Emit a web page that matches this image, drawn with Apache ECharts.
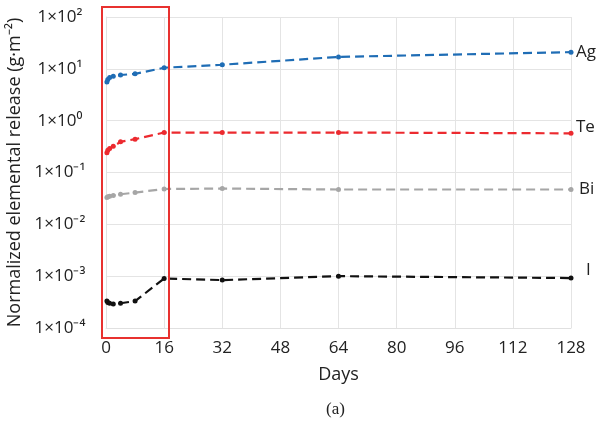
<!DOCTYPE html>
<html>
<head>
<meta charset="utf-8">
<script src="https://cdn.jsdelivr.net/npm/echarts@6/dist/echarts.min.js"></script>
<style>
  html, body { margin: 0; padding: 0; background: #fff; }
  #chart { width: 600px; height: 427px; }
</style>
</head>
<body>
<div id="chart"></div>
<script>
// sampling days
const days = [0.25, 0.5, 1, 2, 4, 8, 16, 32, 64, 128];
// normalized release (g·m^-2)
const agValues = [5.6, 6.2, 6.8, 7.2, 7.6, 8.0, 10.5, 12, 17, 21];
const teValues = [0.24, 0.27, 0.29, 0.32, 0.39, 0.44, 0.59, 0.59, 0.59, 0.57];
const biValues = [0.033, 0.034, 0.035, 0.036, 0.038, 0.041, 0.048, 0.049, 0.047, 0.047];
const iValues = [3.3e-4, 3.1e-4, 3.0e-4, 2.9e-4, 3.0e-4, 3.3e-4, 9.0e-4, 8.4e-4, 1.0e-3, 9.2e-4];
const yTickLabels = {
  '100': '1×10²', '10': '1×10¹', '1': '1×10⁰', '0.1': '1×10⁻¹',
  '0.01': '1×10⁻²', '0.001': '1×10⁻³', '0.0001': '1×10⁻⁴'
};

const font = '"Open Sans", sans-serif';
const chart = echarts.init(document.getElementById('chart'));

function makeSeries(name, values, color, labelOffset) {
  return {
    name: name,
    type: 'line',
    data: days.map((d, i) => [d, values[i]]),
    symbol: 'circle',
    symbolSize: 5,
    lineStyle: { color: color, width: 2.2, type: [9, 5] },
    itemStyle: { color: color },
    endLabel: {
      show: true,
      formatter: name,
      color: '#222',
      fontSize: 17,
      fontFamily: font,
      offset: labelOffset,
      distance: 5
    }
  };
}

chart.setOption({
  animation: false,
  grid: { left: 106, right: 29, top: 17, bottom: 99, outerBoundsMode: 'none', containLabel: false },
  xAxis: {
    type: 'value',
    min: 0,
    max: 128,
    interval: 16,
    name: 'Days',
    nameLocation: 'middle',
    nameGap: 38,
    nameTextStyle: { fontSize: 18, color: '#222', fontFamily: font },
    axisLine: { show: true, lineStyle: { color: '#e0e0e0' } },
    axisTick: { show: false },
    axisLabel: { fontSize: 17, color: '#222', fontFamily: font, margin: 12 },
    splitLine: { show: true, lineStyle: { color: '#e4e4e4' } }
  },
  yAxis: {
    type: 'log',
    logBase: 10,
    min: 0.0001,
    max: 100,
    name: 'Normalized elemental release (g·m⁻²)',
    nameLocation: 'middle',
    nameGap: 75,
    nameTextStyle: { fontSize: 18, color: '#222', fontFamily: font },
    axisLine: { show: true, lineStyle: { color: '#e0e0e0' } },
    axisTick: { show: false },
    axisLabel: {
      fontSize: 17,
      color: '#222',
      fontFamily: font,
      align: 'center',
      margin: 46,
      padding: [6, 0, 0, 0],
      formatter: v => yTickLabels[String(+v.toPrecision(6))] || ''
    },
    splitLine: { show: true, lineStyle: { color: '#e4e4e4' } }
  },
  graphic: [
    {
      type: 'rect',
      shape: { x: 102, y: 7, width: 67, height: 331 },
      style: { fill: 'none', stroke: '#e8312f', lineWidth: 2 },
      z: 10
    },
    {
      type: 'text',
      left: 326,
      top: 401,
      style: { text: '(a)', fontSize: 17, fontFamily: '"Liberation Serif", serif', fill: '#222' }
    }
  ],
  series: [
    makeSeries('Ag', agValues, '#1f6db5', [0, 0]),
    makeSeries('Te', teValues, '#ec2a2f', [0, -6]),
    makeSeries('Bi', biValues, '#a6a6a6', [3, 0]),
    makeSeries('I', iValues, '#111111', [10, -8])
  ]
});
</script>
</body>
</html>
